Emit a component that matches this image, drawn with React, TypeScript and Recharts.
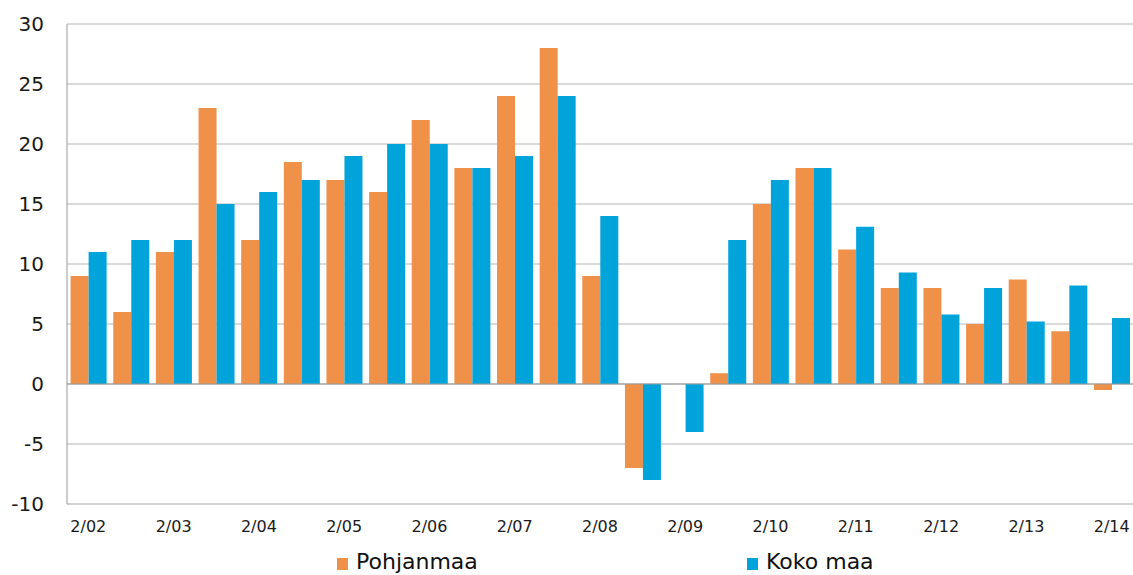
import {
  BarChart,
  Bar,
  XAxis,
  YAxis,
  CartesianGrid,
  ReferenceLine,
  Legend,
} from "recharts";

// half-year periods, only the "2/yy" ones get a label on the axis
const periods = [
  "2/02", "8/02", "2/03", "8/03", "2/04", "8/04", "2/05", "8/05", "2/06",
  "8/06", "2/07", "8/07", "2/08", "8/08", "2/09", "8/09", "2/10", "8/10",
  "2/11", "8/11", "2/12", "8/12", "2/13", "8/13", "2/14",
];

const pohjanmaa = [
  9, 6, 11, 23, 12, 18.5, 17, 16, 22, 18, 24, 28, 9, -7, 0, 0.9, 15, 18,
  11.2, 8, 8, 5, 8.7, 4.4, -0.5,
];

const kokoMaa = [
  11, 12, 12, 15, 16, 17, 19, 20, 20, 18, 19, 24, 14, -8, -4, 12, 17, 18,
  13.1, 9.3, 5.8, 8, 5.2, 8.2, 5.5,
];

const yTicks = [-10, -5, 0, 5, 10, 15, 20, 25, 30];

const ORANGE = "#F0914A";
const BLUE = "#00A4DA";
const FONT = "'DejaVu Sans', sans-serif";

const data = periods.map((p, i) => ({
  period: p,
  pohjanmaa: pohjanmaa[i],
  kokoMaa: kokoMaa[i],
}));

function LegendBox() {
  const item = (color: string, label: string, left: number) => (
    <div
      style={{
        position: "absolute",
        left,
        top: 0,
        display: "flex",
        alignItems: "center",
        height: 27,
      }}
    >
      <span
        style={{ width: 11, height: 12, background: color, marginRight: 8, marginTop: 4 }}
      />
      <span style={{ fontSize: 22, color: "#111", fontFamily: FONT }}>{label}</span>
    </div>
  );
  return (
    <div style={{ position: "relative", width: 1133, height: 27 }}>
      {item(ORANGE, "Pohjanmaa", 337)}
      {item(BLUE, "Koko maa", 747)}
    </div>
  );
}

export default function App() {
  return (
    <div style={{ position: "absolute", left: 0, top: 0, fontFamily: FONT }}>
      <BarChart
        width={1133}
        height={575}
        data={data}
        margin={{ top: 24, right: 0, left: 0, bottom: 0 }}
        barCategoryGap="8.5%"
        barGap={0}
      >
        <CartesianGrid vertical={false} stroke="#b5b5b5" />
        <XAxis
          dataKey="period"
          interval={1}
          tickLine={false}
          tickSize={0}
          tickMargin={17}
          height={44}
          axisLine={{ stroke: "#c8c8c8" }}
          tick={{ fontSize: 16, fill: "#1a1a1a", fontFamily: FONT }}
        />
        <YAxis
          width={67}
          domain={[-10, 30]}
          ticks={yTicks}
          interval={0}
          tickLine={false}
          tickSize={0}
          tickMargin={23}
          axisLine={{ stroke: "#999" }}
          tick={{ fontSize: 20, fill: "#1a1a1a", fontFamily: FONT }}
        />
        <ReferenceLine y={0} stroke="#999" />
        <Legend
          verticalAlign="bottom"
          content={() => <LegendBox />}
          wrapperStyle={{ left: 0, width: 1133, height: 27 }}
        />
        <Bar dataKey="pohjanmaa" name="Pohjanmaa" fill={ORANGE} isAnimationActive={false} />
        <Bar dataKey="kokoMaa" name="Koko maa" fill={BLUE} isAnimationActive={false} />
      </BarChart>
    </div>
  );
}
